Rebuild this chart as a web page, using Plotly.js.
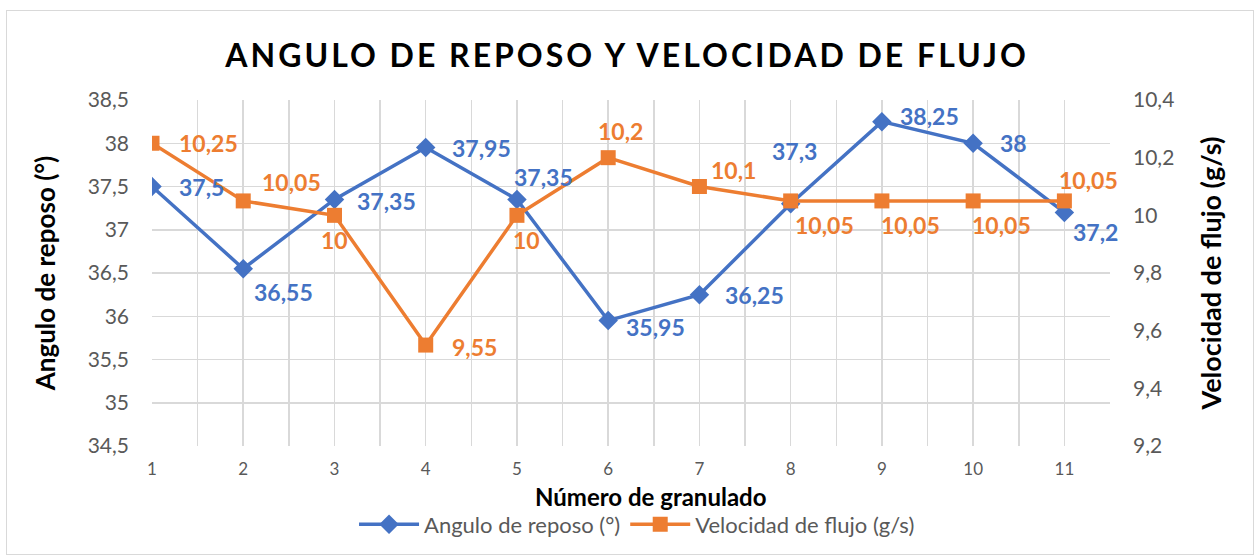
<!DOCTYPE html>
<html>
<head>
<meta charset="utf-8">
<script src="https://cdn.plot.ly/plotly-3.0.1.min.js"></script>
<style>
  html, body { margin: 0; padding: 0; background: #fff; }
  #wrap { position: relative; width: 1254px; height: 555px; }
  #chart { width: 1254px; height: 555px; }
  #frame { position: absolute; left: 6px; top: 10px; right: 0px; bottom: 0px; border: 1.5px solid #d9d9d9; pointer-events: none; }
  .gtitle { letter-spacing: 3px; }
</style>
</head>
<body>
<div id="wrap"><div id="chart"></div><div id="frame"></div></div>
<script>
// ---- data ----
const granulado = [1, 2, 3, 4, 5, 6, 7, 8, 9, 10, 11];
const anguloReposo = [37.5, 36.55, 37.35, 37.95, 37.35, 35.95, 36.25, 37.3, 38.25, 38, 37.2];
const velocidadFlujo = [10.25, 10.05, 10, 9.55, 10, 10.2, 10.1, 10.05, 10.05, 10.05, 10.05];
const leftTicks = [34.5, 35, 35.5, 36, 36.5, 37, 37.5, 38, 38.5];
const rightTicks = [9.2, 9.4, 9.6, 9.8, 10, 10.2, 10.4];
const seriesNames = ['Angulo de reposo (°)', 'Velocidad de flujo (g/s)'];
const xTitle = 'Número de granulado';

// ---- label placement (pixel offsets from each point) ----
const blueAnchor = ['left','left','left','left','left','left','left','center','left','left','left'];
const blueDx = [25, 9, 21, 24, -5, 16, 24, 4, 16, 25, 7];
const blueDy = [0, -23, -2, 0, 22, -6, 0, 53, 6, 0, -20];
const orangeAnchor = ['left','left','center','left','center','center','left','left','left','left','center'];
const orangeDx = [25, 17, 0, 24, 10, 12, 10, 2, -3, -3, 24];
const orangeDy = [0, 19, -25, -2, -25, 27, 17, -24, -24, -24, 21];

const BLUE = '#4472C4', ORANGE = '#ED7D31';
const FONT = 'Lato, "Open Sans", sans-serif';
const fmt = v => String(v).replace('.', ',');

const traces = [
  { x: granulado, y: anguloReposo, name: seriesNames[0], type: 'scatter', mode: 'lines+markers',
    line: { color: BLUE, width: 3.5 }, marker: { symbol: 'diamond', size: 15, color: BLUE }, yaxis: 'y' },
  { x: granulado, y: velocidadFlujo, name: seriesNames[1], type: 'scatter', mode: 'lines+markers',
    line: { color: ORANGE, width: 3.5 }, marker: { symbol: 'square', size: 15, color: ORANGE }, yaxis: 'y2' }
];

const annotations = [];
granulado.forEach((g, i) => {
  annotations.push({ x: g, y: anguloReposo[i], xref: 'x', yref: 'y', text: fmt(anguloReposo[i]), showarrow: false,
    xanchor: blueAnchor[i], yanchor: 'middle', xshift: blueDx[i], yshift: blueDy[i],
    font: { family: FONT, size: 23, color: BLUE, weight: 'bold' } });
  annotations.push({ x: g, y: velocidadFlujo[i], xref: 'x', yref: 'y2', text: fmt(velocidadFlujo[i]), showarrow: false,
    xanchor: orangeAnchor[i], yanchor: 'middle', xshift: orangeDx[i], yshift: orangeDy[i],
    font: { family: FONT, size: 23, color: ORANGE, weight: 'bold' } });
});
// x-axis title placed below the tick labels
annotations.push({ x: 0.52, y: 0, xref: 'paper', yref: 'paper', yshift: -50, text: xTitle, showarrow: false,
  xanchor: 'center', yanchor: 'middle', font: { family: FONT, size: 24, color: '#000', weight: 'bold' } });

const GRID = '#d9d9d9';
const layout = {
  width: 1254, height: 555,
  margin: { l: 152, r: 144, t: 100, b: 109 },
  paper_bgcolor: 'rgba(0,0,0,0)', plot_bgcolor: '#fff',
  separators: ',.',
  font: { family: FONT, color: '#595959' },
  title: { text: 'ANGULO DE REPOSO Y VELOCIDAD DE FLUJO', xref: 'container', yref: 'container',
    x: 0.5, y: 0.9, xanchor: 'center', yanchor: 'middle',
    font: { family: FONT, size: 32, color: '#000', weight: 'bold' } },
  xaxis: {
    range: [1, 11.5], tickmode: 'array', tickvals: granulado, ticktext: granulado.map(String),
    showgrid: true, gridcolor: GRID, gridwidth: 1.5, zeroline: false, showline: false,
    ticks: '', ticklabelstandoff: 11, automargin: false,
    tickfont: { size: 17, color: '#595959' },
    minor: { tickmode: 'linear', tick0: 1, dtick: 0.5, showgrid: true, gridcolor: GRID, gridwidth: 1.5 }
  },
  yaxis: {
    range: [34.5, 38.5], tickmode: 'array', tickvals: leftTicks,
    showgrid: true, gridcolor: GRID, gridwidth: 1.5, zeroline: false, showline: false,
    ticks: '', ticklabelstandoff: 22, automargin: false,
    tickfont: { size: 21, color: '#595959' },
    title: { text: seriesNames[0], standoff: 24, font: { size: 26, color: '#000', weight: 'bold' } }
  },
  yaxis2: {
    overlaying: 'y', side: 'right', range: [9.2, 10.4], tickmode: 'array', tickvals: rightTicks,
    showgrid: false, zeroline: false, showline: false, ticks: '', ticklabelstandoff: 22, automargin: false,
    tickfont: { size: 21, color: '#595959' },
    title: { text: seriesNames[1], standoff: 28, font: { size: 27, color: '#000', weight: 'bold' } }
  },
  showlegend: true,
  legend: { orientation: 'h', xref: 'container', yref: 'container', x: 0.508, xanchor: 'center', y: 0.055, yanchor: 'middle',
    font: { size: 22, color: '#595959' }, itemwidth: 60, traceorder: 'normal' },
  annotations: annotations
};

Plotly.newPlot('chart', traces, layout, { displayModeBar: false, staticPlot: true });
</script>
</body>
</html>
